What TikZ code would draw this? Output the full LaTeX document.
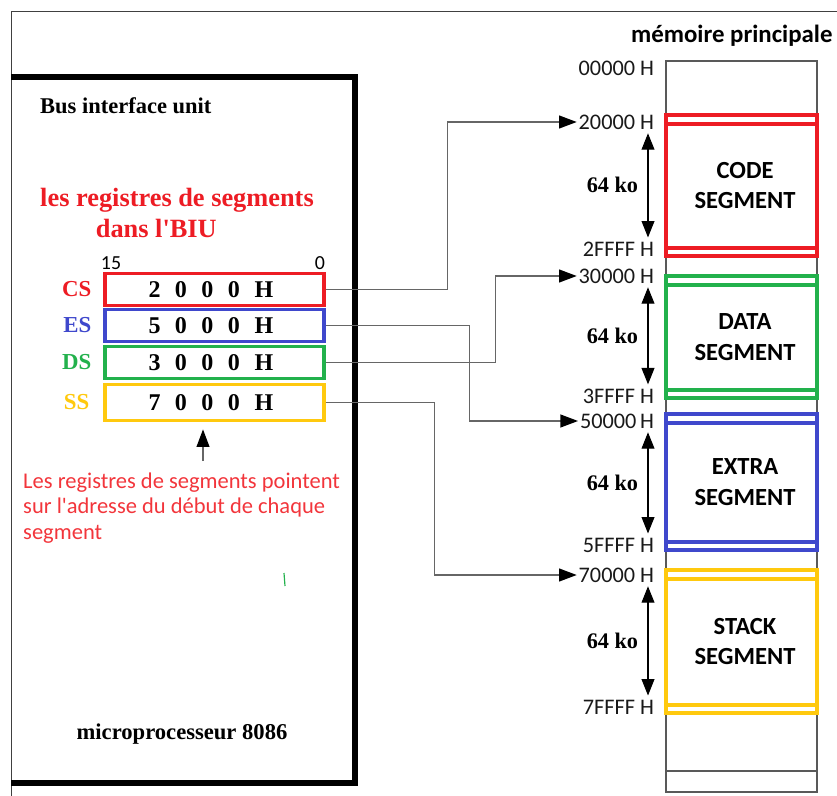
\documentclass[tikz,border=0pt]{standalone}
\usepackage{fontspec}
\setmainfont{Liberation Serif}
\newfontfamily\calibri{Carlito}
\usetikzlibrary{arrows.meta,positioning}
\definecolor{segred}{HTML}{ED1C24}
\definecolor{segblue}{HTML}{3F48CC}
\definecolor{seggreen}{HTML}{22B14C}
\definecolor{segyellow}{HTML}{FFC90E}
\definecolor{notered}{HTML}{F2353B}

\begin{document}
\begin{tikzpicture}[x=0.03cm,y=-0.03cm,
  reg/.style={draw=#1,line width=2.6pt,minimum width=6.57cm,minimum height=0.95cm,inner sep=0pt,font=\fontsize{20.5}{24}\selectfont\bfseries},
  reglab/.style={text=#1,font=\fontsize{19.5}{23}\selectfont\bfseries,inner sep=0pt},
  seg/.style={draw=#1,line width=3pt,minimum width=4.53cm,align=center,inner sep=0pt,font=\calibri\fontsize{21}{26}\selectfont\bfseries},
  addr/.style={anchor=east,inner sep=1.5pt,text=black!90,font=\calibri\fontsize{19}{22}\selectfont},
  link/.style={-{Triangle[length=15pt,width=11pt,color=black]},draw=gray!80!black,line width=1.1pt},
  size/.style={{Triangle[length=14pt,width=11pt]}-{Triangle[length=14pt,width=11pt]},line width=0.9pt},
  sizelab/.style={left=8pt,font=\fontsize{19}{23}\selectfont\bfseries,inner sep=0pt},
  memline/.style={draw=gray!70!black,line width=1.1pt}
]
\useasboundingbox (0,0) rectangle (837,796);

% page frame and the BIU box
\draw[black!75,line width=0.8pt] (837,11) -- (11,11) -- (11,796);
\draw[line width=4.3pt] (11,77) -- (355,77) -- (355,783) -- (11,783);
\node[anchor=west,inner sep=0pt,font=\fontsize{19.2}{23}\selectfont\bfseries] (biu) at (40,106) {Bus interface unit};
\node[anchor=west,align=left,inner sep=0pt,text=segred,font=\fontsize{22.5}{26}\selectfont\bfseries] (regtitle) at (40,213)
  {les registres de segments\\\hspace*{1.67cm}dans l\textquotesingle BIU};

% segment registers
\newcommand\hexval[4]{#1\kern.6em#2\kern.6em#3\kern.6em#4\kern.62em H\kern6pt}
\node[reg=segred]    (cs) at (214.5,289.5) {\hexval2000};
\node[reg=segblue]   (es) at (214.5,325.5) {\hexval5000};
\node[reg=seggreen]  (ds) at (214.5,362.5) {\hexval3000};
\node[reg=segyellow,minimum height=1.1cm] (ss) at (214.5,402.5) {\hexval7000};
\node[reglab=segred,    left=0.36cm of cs] {CS};
\node[reglab=segblue,   left=0.36cm of es] {ES};
\node[reglab=seggreen,  left=0.36cm of ds] {DS};
\node[reglab=segyellow, left=0.42cm of ss] {SS};
\node[font=\calibri\fontsize{17}{20}\selectfont,inner sep=0pt] (bit15) at (111,263) {15};
\node[font=\calibri\fontsize{17}{20}\selectfont,inner sep=0pt] (bit0) at (320,263) {0};

\node[anchor=west,align=left,inner sep=0pt,text=notered,font=\calibri\fontsize{19.2}{22}\selectfont] (note) at (23,508)
  {Les registres de segments pointent\\sur l\textquotesingle adresse du d\'ebut de chaque\\segment};
\coordinate (tail) at (203,461);
\draw[link,shorten >=6pt] (tail) -- (ss.south -| tail);
\draw[seggreen,line width=1pt] (284,573) -- (285,586);
\node[font=\fontsize{19.3}{23}\selectfont\bfseries,inner sep=0pt] (cpu) at (182,734) {microprocesseur 8086};

% main memory
\node[anchor=west,inner sep=0pt,font=\calibri\fontsize{21.2}{25}\selectfont\bfseries] (memtitle) at (631,36) {m\'emoire principale};
\draw[memline] (666,61) rectangle (817,792);
\draw[memline] (666,771) -- (817,771);

\node[seg=segred,   minimum height=4.23cm] (code)  at (741.5,185.5) {\hspace*{6pt}CODE\\\hspace*{6pt}SEGMENT};
\node[seg=seggreen, minimum height=3.66cm] (data)  at (741.5,337)   {\hspace*{6pt}DATA\\\hspace*{6pt}SEGMENT};
\node[seg=segblue,  minimum height=4.08cm] (extra) at (741.5,482)   {\hspace*{6pt}EXTRA\\\hspace*{6pt}SEGMENT};
\node[seg=segyellow,minimum height=4.29cm] (stack) at (741.5,641.5) {\hspace*{6pt}STACK\\\hspace*{6pt}SEGMENT};
\foreach \s/\c in {code/segred,data/seggreen,extra/segblue,stack/segyellow}{
  \draw[\c,line width=3pt] ([yshift=-0.32cm]\s.north west) -- ([yshift=-0.32cm]\s.north east);
  \draw[\c,line width=3pt] ([yshift=0.3cm]\s.south west) -- ([yshift=0.3cm]\s.south east);
}

\node[addr] (a00) at (656,68)  {00000 H};
\node[addr] (a20) at (656,122) {20000 H};
\node[addr] (a2F) at (656,249) {2FFFF H};
\node[addr] (a30) at (656,276) {30000 H};
\node[addr] (a3F) at (656,396) {3FFFF H};
\node[addr] (a50) at (656,421) {50000\,H};
\node[addr] (a5F) at (656,545) {5FFFF H};
\node[addr] (a70) at (656,575) {70000 H};
\node[addr] (a7F) at (656,707) {7FFFF H};

% 64 ko spans
\coordinate (ruler) at (648,0);
\draw[size] (a20.south -| ruler) ++(0,2) -- ([yshift=2pt]a2F.north -| ruler) node[sizelab,midway] {64 ko};
\draw[size] (a30.south -| ruler) ++(0,2) -- ([yshift=2pt]a3F.north -| ruler) node[sizelab,midway] {64 ko};
\draw[size] (a50.south -| ruler) ++(0,2) -- ([yshift=2pt]a5F.north -| ruler) node[sizelab,midway] {64 ko};
\draw[size] (a70.south -| ruler) ++(0,2) -- ([yshift=2pt]a7F.north -| ruler) node[sizelab,midway] {64 ko};

% registers point to segment start
\draw[link] (cs.east) -- ++(122,0) |- (a20.west);
\draw[link] (es.east) -- ++(144,0) |- (a50.west);
\draw[link] (ds.east) -- ++(170,0) |- (a30.west);
\draw[link] (ss.east) -- ++(109,0) |- (a70.west);
\end{tikzpicture}
\end{document}
